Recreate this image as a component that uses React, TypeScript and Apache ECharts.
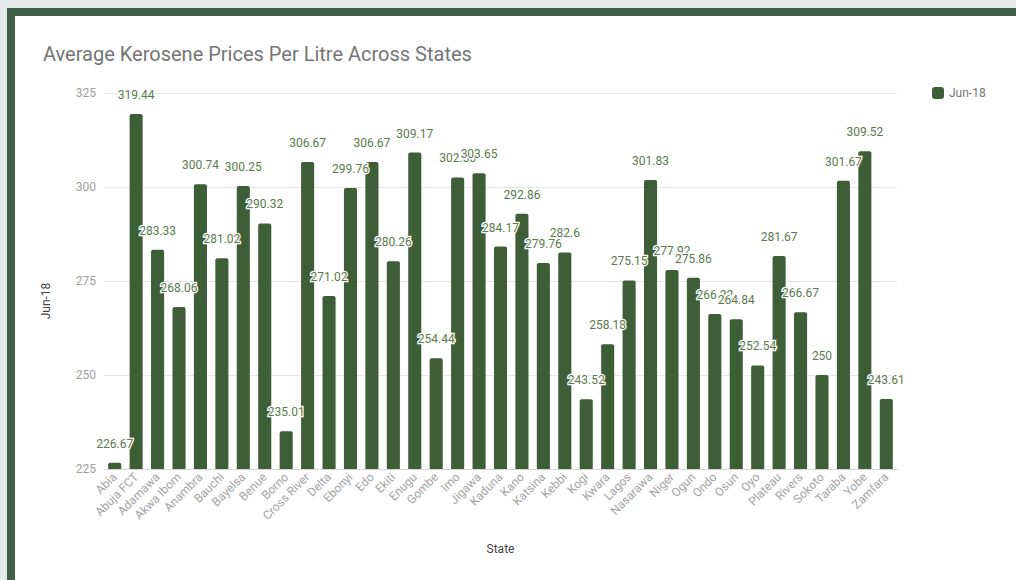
import React, { useEffect, useRef } from "react";
import * as echarts from "echarts";

const states = [
  "Abia", "Abuja FCT", "Adamawa", "Akwa Ibom", "Anambra", "Bauchi", "Bayelsa", "Benue", "Borno",
  "Cross River", "Delta", "Ebonyi", "Edo", "Ekiti", "Enugu", "Gombe", "Imo", "Jigawa", "Kaduna",
  "Kano", "Katsina", "Kebbi", "Kogi", "Kwara", "Lagos", "Nasarawa", "Niger", "Ogun", "Ondo",
  "Osun", "Oyo", "Plateau", "Rivers", "Sokoto", "Taraba", "Yobe", "Zamfara",
];

const jun18 = [
  226.67, 319.44, 283.33, 268.06, 300.74, 281.02, 300.25, 290.32, 235.01,
  306.67, 271.02, 299.76, 306.67, 280.26, 309.17, 254.44, 302.55, 303.65, 284.17,
  292.86, 279.76, 282.6, 243.52, 258.18, 275.15, 301.83, 277.92, 275.86, 266.22,
  264.84, 252.54, 281.67, 266.67, 250, 301.67, 309.52, 243.61,
];

const yTicks = { min: 225, max: 325, interval: 25 };

export default function App() {
  const ref = useRef<HTMLDivElement>(null);

  useEffect(() => {
    if (!ref.current) return;
    const chart = echarts.init(ref.current, null, { renderer: "svg" });
    chart.setOption({
      animation: false,
      textStyle: { fontFamily: "Roboto" },
      title: {
        text: "Average Kerosene Prices Per Litre Across States",
        left: 38,
        top: 39,
        textStyle: { fontSize: 20, fontWeight: "normal", color: "#757575", fontFamily: "Roboto" },
      },
      legend: {
        data: ["Jun-18"],
        left: 927,
        top: 82,
        itemWidth: 12,
        itemHeight: 12,
        icon: "roundRect",
        itemGap: 7,
        textStyle: { fontSize: 12, color: "#757575", fontFamily: "Roboto" },
      },
      grid: { left: 104, right: 119, top: 93, bottom: 111, containLabel: false },
      xAxis: {
        type: "category",
        data: states,
        name: "State",
        nameLocation: "middle",
        nameGap: 74,
        nameTextStyle: { fontSize: 12, color: "#444", fontFamily: "Roboto" },
        axisLine: { show: true, lineStyle: { color: "#d6d6d6", width: 1 } },
        axisTick: { show: false },
        axisLabel: {
          rotate: 45,
          interval: 0,
          fontSize: 12,
          color: "#a4a4a4",
          margin: 6,
          fontFamily: "Roboto",
        },
      },
      yAxis: {
        type: "value",
        min: yTicks.min,
        max: yTicks.max,
        interval: yTicks.interval,
        name: "Jun-18",
        nameLocation: "middle",
        nameGap: 52,
        nameTextStyle: { fontSize: 12, color: "#444", fontFamily: "Roboto", padding: [0, 0, 0, -40] },
        axisLine: { show: false },
        axisTick: { show: false },
        axisLabel: { fontSize: 12, color: "#9e9e9e", margin: 8, fontFamily: "Roboto" },
        splitLine: { lineStyle: { color: "#e6e6e6", width: 1 } },
      },
      series: [
        {
          name: "Jun-18",
          type: "bar",
          data: jun18,
          barWidth: "61%",
          itemStyle: { color: "#3e5e37", borderRadius: [2, 2, 0, 0] },
          label: {
            show: true,
            position: "top",
            distance: 13,
            fontSize: 12,
            color: "#5a7a4c",
            fontFamily: "Roboto",
            textBorderColor: "#ffffff",
            textBorderWidth: 2.5,
          },
        },
      ],
    });
    return () => chart.dispose();
  }, []);

  return (
    <div style={{ position: "absolute", left: 0, top: 0, width: 1016, height: 580, background: "#e7e8e9", overflow: "hidden" }}>
      <div
        style={{
          position: "absolute",
          left: 7,
          top: 8,
          width: 1040,
          height: 620,
          background: "#ffffff",
          borderLeft: "8px solid #3d5e48",
          borderTop: "8px solid #3d5e48",
        }}
      />
      <div ref={ref} style={{ position: "absolute", left: 0, top: 0, width: 1016, height: 580 }} />
    </div>
  );
}
